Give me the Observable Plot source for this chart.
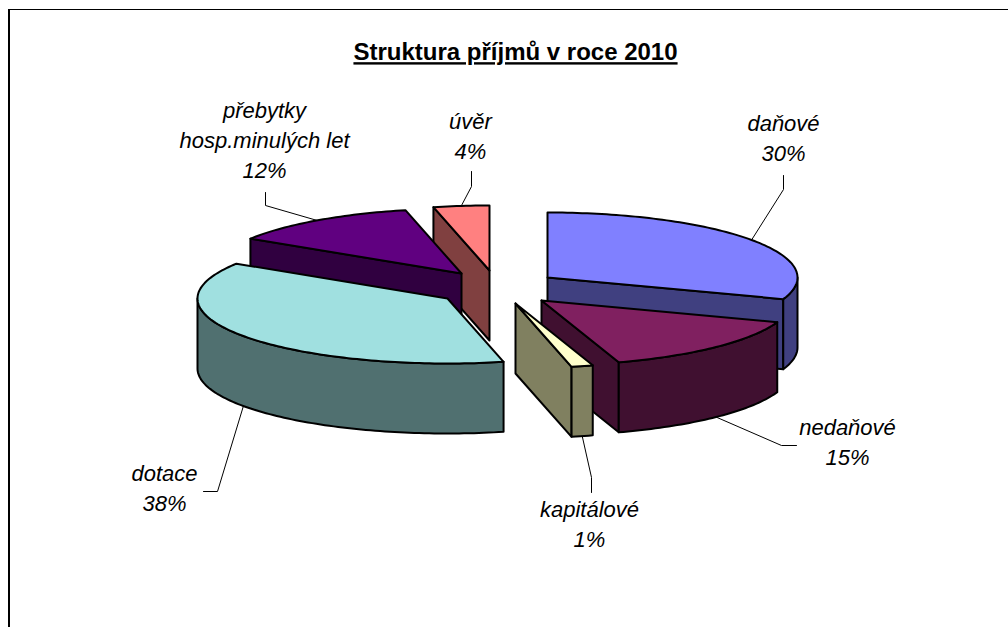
<!DOCTYPE html>
<html lang="cs">
<head>
<meta charset="utf-8">
<script src="https://cdn.jsdelivr.net/npm/d3@7"></script>
<script src="https://cdn.jsdelivr.net/npm/@observablehq/plot@0.6"></script>
<style>
  html, body { margin: 0; padding: 0; background: #fff; overflow: hidden; }
  #chart { position: relative; width: 1008px; height: 627px; overflow: hidden; }
  #chart svg { display: block; background: #fff; }
  #frame { position: absolute; left: 8px; top: 9px; right: 0; bottom: 0;
           border-top: 1.5px solid #000; border-left: 2px solid #000; pointer-events: none; }
</style>
</head>
<body>
<div id="chart"><div id="frame"></div></div>
<script>
// ---- data ----
const titleText = "Struktura příjmů v roce 2010";
const categories = ["daňové", "nedaňové", "kapitálové", "dotace", "přebytky", "úvěr"];
const labelNames = ["daňové", "nedaňové", "kapitálové", "dotace", "přebytky\nhosp.minulých let", "úvěr"];
const shares = [30.4, 14.6, 1.4, 37.6, 12.4, 3.6];

// ---- styles ----
const topColors  = ["#8080FF", "#802060", "#FFFFCC", "#A0E0E0", "#600080", "#FF8080"];
const wallColors = ["#404080", "#401030", "#808060", "#507070", "#300040", "#804040"];
const fontFamily = "'Liberation Sans', Arial, sans-serif";

// ---- layout of the exploded 3-D pie (page pixels) ----
const apexX = [547, 541, 515, 447, 461, 489];
const apexY = [277, 300, 303, 298, 273, 270];
const radiusX = 250, radiusY = 65, depth = 70;
const labelX = [783, 847, 589, 164, 264, 470];
const labelY = [136, 440, 522, 486, 138, 134];
const elbowX = [783, 781, 591, 217, 265, 471];
const elbowY = [189, 445, 477, 491, 205, 186];
const endX   = [783, 796, 591, 203, 265, 471];
const endY   = [175, 445, 492, 491, 192, 171];
const drawOrder = [5, 4, 0, 1, 2, 3];
// which radial edge of each slice shows its wall: 1 = end, 0 = start, null = none
const radialWall = [1, 1, 1, null, 0, 0];

// ---- geometry derived from the shares ----
const total = d3.sum(shares);
const cumulative = d3.cumsum(shares);
const slices = categories.map((name, i) => {
  const a0 = (i ? cumulative[i - 1] : 0) / total * 2 * Math.PI;
  const a1 = cumulative[i] / total * 2 * Math.PI;
  return {i, name, a0, a1, mid: (a0 + a1) / 2};
});
const rim = (s, a, drop = 0) => ({
  x: apexX[s.i] + radiusX * Math.sin(a),
  y: apexY[s.i] - radiusY * Math.cos(a) + drop
});
const arc = (s, from, to, drop = 0) => {
  const n = Math.max(2, Math.ceil(Math.abs(to - from) / 0.02));
  return d3.range(n + 1).map(k => rim(s, from + (to - from) * k / n, drop));
};
const apex = (s, drop = 0) => ({x: apexX[s.i], y: apexY[s.i] + drop});

function polygon(points, fill) {
  return Plot.line([...points, points[0]], {
    x: "x", y: "y", fill, stroke: "#000", strokeWidth: 2, strokeLinejoin: "round"
  });
}

const marks = [];

// Leader lines go under the pie; they start on the rim at the middle of each slice.
slices.forEach(s => {
  const front = Math.cos(s.mid) < 0;
  const start = rim(s, s.mid, front ? depth : 0);
  marks.push(Plot.line(
    [start, {x: elbowX[s.i], y: elbowY[s.i]}, {x: endX[s.i], y: endY[s.i]}],
    {x: "x", y: "y", stroke: "#000", strokeWidth: 1}
  ));
});

// Slices, painted from the back to the front.
drawOrder.forEach(i => {
  const s = slices[i];
  if (radialWall[i] !== null) {
    const a = radialWall[i] ? s.a1 : s.a0;
    marks.push(polygon([apex(s), rim(s, a), rim(s, a, depth), apex(s, depth)], wallColors[i]));
  }
  // outer wall: the part of the rim in the front half
  const from = Math.max(s.a0, Math.PI / 2), to = Math.min(s.a1, 3 * Math.PI / 2);
  if (to > from) {
    marks.push(polygon([...arc(s, from, to), ...arc(s, to, from, depth)], wallColors[i]));
  }
  // top face
  marks.push(polygon([apex(s), ...arc(s, s.a0, s.a1)], topColors[i]));
});

// Labels with the rounded percentage.
marks.push(Plot.text(slices, {
  x: s => labelX[s.i],
  y: s => labelY[s.i],
  text: s => `${labelNames[s.i]}\n${Math.round(shares[s.i])}%`,
  fontFamily, fontSize: 22, fontStyle: "italic", fill: "#000",
  lineHeight: 1.36, textAnchor: "middle"
}));

marks.push(Plot.text([titleText], {
  x: () => 515, y: () => 52, text: d => d,
  fontFamily, fontSize: 24, fontWeight: "bold", fill: "#000",
  textAnchor: "middle"
}));

const plot = Plot.plot({
  width: 1008, height: 627,
  margin: 0,
  x: {domain: [0, 1008], range: [0, 1008], axis: null},
  y: {domain: [0, 627], range: [0, 627], axis: null},
  style: {background: "#fff", fontFamily},
  marks
});
plot.querySelectorAll("text").forEach(t => {
  if (t.textContent === titleText) {
    t.style.textDecoration = "underline";
    t.style.textDecorationThickness = "2.4px";
  }
});
document.getElementById("chart").prepend(plot);
</script>
</body>
</html>
